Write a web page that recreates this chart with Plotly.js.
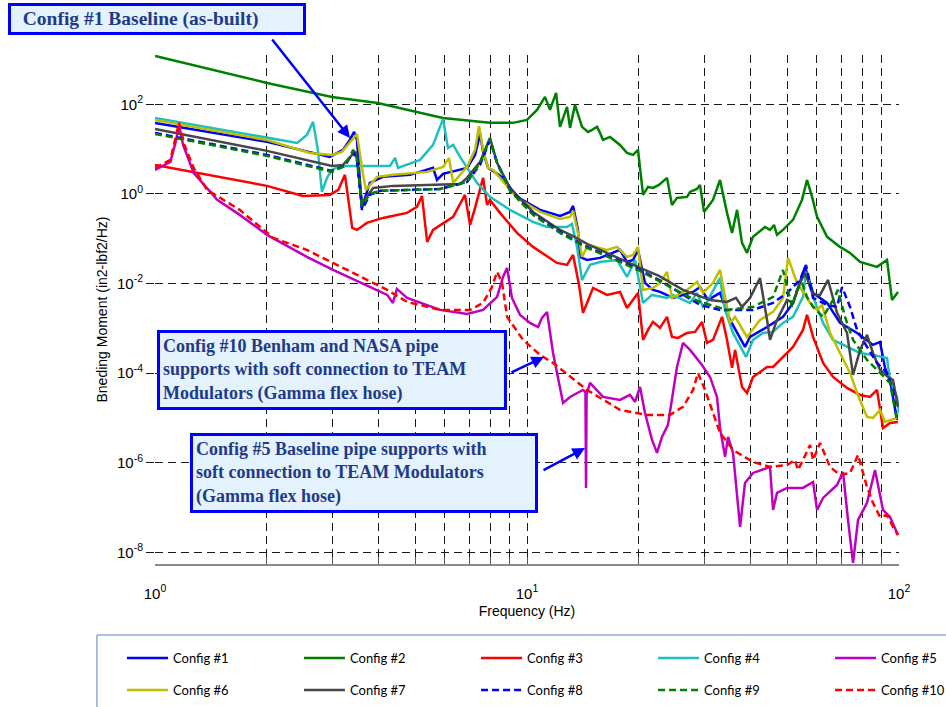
<!DOCTYPE html>
<html>
<head>
<meta charset="utf-8">
<script src="https://cdn.plot.ly/plotly-3.0.1.min.js"></script>
<style>
  html, body { margin: 0; padding: 0; background: #ffffff; }
  #chart { width: 946px; height: 707px; }
</style>
</head>
<body>
<div id="chart"></div>
<script>
// Bending moment PSD (in2-lbf2/Hz) versus frequency (Hz) for each configuration.
const cfg1Freq = [1.00, 2.00, 2.95, 3.20, 3.34, 3.43, 3.49, 3.60, 3.69, 3.78, 4.10, 4.85, 5.59, 5.73, 5.95, 6.90, 7.25, 7.48, 7.62, 7.86, 8.10, 8.62, 9.40, 10.84, 12.27, 13.05, 13.30, 13.71, 13.88, 14.50, 15.71, 17.03, 17.78, 18.57, 19.28, 19.88, 20.76, 21.81, 22.78, 24.69, 27.95, 29.18, 30.66, 33.03, 35.14, 38.55, 39.77, 44.19, 48.77, 51.89, 55.89, 58.75, 64.07, 69.42, 77.13, 85.13, 88.91, 91.71, 94.58, 98.77];
const cfg1Val = [38.5, 14.5, 6.70, 9.60, 16.0, 24.2, 16.0, 0.487, 0.950, 1.76, 2.40, 2.66, 3.80, 2.05, 2.80, 3.80, 7.42, 21.8, 8.66, 3.80, 3.26, 2.28, 0.857, 0.440, 0.323, 0.396, 0.540, 0.157, 0.0393, 0.0336, 0.0373, 0.0482, 0.0562, 0.0303, 0.0336, 0.0562, 0.0103, 0.00720, 0.00649, 0.00477, 0.00649, 0.00839, 0.00430, 0.00617, 0.00154, 0.000385, 0.000643, 0.00107, 0.00180, 0.00369, 0.0235, 0.00617, 0.00369, 0.00132, 0.000789, 0.000426, 0.000497, 0.000131, 7.05e-5, 9.02e-6];

const cfg2Freq = [1.00, 2.00, 2.99, 3.97, 5.94, 7.95, 9.17, 10.0, 10.64, 11.18, 11.53, 11.97, 12.27, 12.81, 13.05, 13.46, 14.06, 14.59, 14.96, 15.43, 15.71, 16.01, 16.72, 17.78, 18.57, 19.28, 19.88, 20.51, 21.15, 21.81, 22.63, 23.79, 24.53, 25.30, 26.93, 27.43, 28.64, 29.18, 29.91, 30.66, 31.62, 33.03, 34.49, 35.58, 36.70, 37.84, 39.03, 40.51, 43.64, 45.01, 46.13, 46.99, 48.77, 51.89, 54.86, 56.58, 58.39, 60.22, 64.07, 69.42, 73.86, 78.58, 87.27, 92.85, 95.76, 99.38];
const cfg2Val = [1200, 300, 146, 107, 49.7, 38.5, 38.5, 44.9, 75, 146, 75, 180, 31.3, 87.5, 29.7, 97, 31.3, 24.2, 26.8, 31.3, 23.0, 16.0, 18.7, 12.4, 8.22, 7.42, 9.60, 0.95, 1.43, 1.36, 1.59, 2.28, 0.568, 0.814, 0.857, 1.11, 1.29, 1.59, 0.396, 0.513, 0.735, 2.05, 0.377, 0.135, 0.44, 0.0806, 0.0482, 0.110, 0.183, 0.157, 0.203, 0.122, 0.157, 0.263, 0.735, 2.05, 0.857, 0.307, 0.110, 0.0656, 0.0482, 0.0303, 0.0235, 0.0336, 0.0043, 0.0065];

const cfg3Freq = [1.00, 2.00, 2.50, 2.95, 3.11, 3.24, 3.39, 3.49, 3.71, 4.10, 4.76, 5.06, 5.22, 5.39, 5.59, 6.10, 6.33, 6.81, 7.03, 7.25, 7.62, 7.81, 7.95, 8.46, 9.40, 10.38, 12.04, 12.81, 13.30, 13.80, 14.14, 14.50, 15.05, 16.41, 17.78, 18.57, 19.28, 19.88, 20.51, 21.15, 21.81, 22.78, 23.79, 24.53, 25.46, 26.93, 28.29, 29.54, 30.47, 31.62, 33.44, 34.49, 35.58, 36.25, 37.84, 39.03, 40.51, 44.19, 45.86, 47.87, 51.89, 55.20, 56.58, 58.75, 62.50, 66.48, 72.48, 78.58, 83.56, 87.27, 90.58, 94.58, 99.38];
const cfg3Val = [4.44, 1.51, 0.902, 0.950, 1.23, 2.66, 0.174, 0.157, 0.225, 0.291, 0.377, 0.513, 0.902, 0.0849, 0.157, 0.250, 0.307, 0.950, 0.203, 0.487, 2.28, 0.568, 0.735, 0.377, 0.135, 0.0656, 0.0288, 0.0260, 0.0435, 0.00930, 0.00221, 0.00369, 0.00798, 0.00557, 0.00649, 0.00285, 0.00430, 0.00617, 0.000551, 0.000921, 0.00139, 0.00102, 0.00180, 0.000643, 0.000611, 0.000789, 0.000832, 0.00139, 0.000472, 0.000551, 0.00180, 0.000551, 0.000131, 0.000330, 4.92e-5, 3.61e-5, 8.22e-5, 0.000137, 0.000137, 0.000197, 0.000385, 0.000921, 0.00199, 0.000643, 0.000169, 8.22e-5, 4.67e-5, 3.26e-5, 2.94e-5, 4.22e-5, 5.98e-6, 7.73e-6, 8.14e-6];

const cfg4Freq = [1.00, 2.00, 2.41, 2.56, 2.66, 2.74, 2.81, 2.90, 2.99, 3.14, 4.28, 4.42, 4.50, 5.16, 5.59, 5.95, 6.13, 6.33, 6.61, 7.34, 7.95, 9.00, 10.38, 11.32, 12.81, 13.21, 13.63, 14.06, 14.77, 15.71, 17.46, 18.57, 19.52, 20.51, 21.68, 23.79, 24.69, 26.26, 27.43, 28.64, 29.72, 30.47, 33.03, 34.07, 35.80, 38.79, 40.51, 43.10, 45.86, 48.77, 51.89, 55.20, 56.23, 58.75, 62.50, 66.48, 72.48, 78.58, 85.13, 92.85, 94.58, 98.77, 100];
const cfg4Val = [49.7, 17.8, 13.7, 20.7, 40.5, 9.60, 1.11, 2.28, 3.43, 4.22, 4.22, 6.36, 3.80, 5.74, 12.4, 47.2, 10.6, 12.4, 6.70, 1.76, 0.857, 0.440, 0.237, 0.183, 0.183, 0.214, 0.0656, 0.0120, 0.0260, 0.0303, 0.0336, 0.0140, 0.0336, 0.00369, 0.00557, 0.00477, 0.00557, 0.00430, 0.00369, 0.00617, 0.00300, 0.00388, 0.0133, 0.00258, 0.000789, 0.000230, 0.000551, 0.000789, 0.000832, 0.00132, 0.00180, 0.00502, 0.0182, 0.00502, 0.00132, 0.000551, 0.000385, 0.000282, 0.000255, 0.000218, 7.05e-5, 2.94e-5, 1.29e-5];

const cfg5Freq = [1.00, 1.10, 1.14, 1.16, 1.19, 1.27, 1.47, 1.69, 2.00, 2.56, 3.01, 4.03, 4.21, 4.36, 4.47, 4.76, 5.84, 6.90, 7.62, 8.31, 8.62, 8.84, 9.11, 9.58, 10.19, 10.71, 10.97, 11.32, 11.75, 12.50, 13.05, 14.14, 14.36, 14.41, 14.46, 14.77, 16.01, 17.78, 18.92, 19.52, 20.13, 20.76, 21.68, 22.36, 23.06, 23.93, 25.30, 26.26, 27.43, 29.54, 31.05, 32.42, 33.03, 34.07, 34.71, 35.80, 37.39, 38.55, 40.51, 45.01, 45.86, 46.99, 50.02, 55.20, 58.75, 60.22, 62.50, 68.15, 70.72, 72.93, 75.24, 77.61, 82.04, 86.2, 90.58, 94.58, 99.38];
const cfg5Val = [3.43, 5.18, 16.0, 34.7, 12.4, 2.94, 0.735, 0.340, 0.122, 0.0393, 0.0201, 0.00649, 0.00557, 0.00369, 0.00757, 0.00477, 0.00258, 0.00210, 0.00258, 0.00502, 0.0140, 0.0223, 0.00477, 0.00199, 0.00132, 0.00107, 0.00171, 0.00232, 0.000282, 2.16e-5, 2.94e-5, 4.22e-5, 3.80e-5, 2.74e-7, 3.30e-5, 6.04e-5, 2.94e-5, 2.52e-5, 3.26e-5, 2.28e-5, 4.92e-5, 1.29e-5, 3.23e-6, 1.66e-6, 3.77e-6, 6.98e-6, 0.000137, 0.000472, 0.000330, 0.000152, 8.22e-5, 2.94e-5, 5.98e-6, 1.35e-6, 3.77e-6, 1.66e-6, 3.69e-8, 3.54e-7, 5.92e-7, 8.05e-7, 8.84e-8, 2.12e-7, 2.74e-7, 2.74e-7, 3.73e-7, 8.84e-8, 1.64e-7, 3.19e-7, 6.23e-7, 5.29e-8, 5.80e-9, 5.29e-8, 1.27e-7, 6.90e-7, 8.84e-8, 6.17e-8, 2.44e-8];

const cfg6Freq = [1.00, 2.00, 2.61, 2.99, 3.18, 3.34, 3.49, 3.62, 3.69, 3.95, 4.36, 5.39, 5.95, 6.17, 6.33, 6.90, 7.25, 7.43, 7.62, 7.86, 8.10, 8.46, 9.40, 10.84, 12.27, 13.05, 13.30, 13.71, 14.06, 14.59, 15.71, 16.41, 17.46, 18.12, 18.57, 19.28, 19.88, 20.51, 21.81, 22.78, 23.79, 24.53, 26.93, 28.64, 29.72, 31.62, 33.03, 35.14, 36.25, 39.03, 42.30, 45.86, 48.77, 50.33, 53.19, 57.68, 60.22, 62.12, 65.25, 69.42, 73.86, 77.13, 82.04, 85.13, 88.91, 91.71, 94.58, 98.77];
const cfg6Val = [44.9, 16.0, 8.22, 7.42, 8.66, 13.7, 21.8, 2.94, 1.23, 2.40, 2.66, 3.10, 4.01, 6.36, 1.76, 4.01, 9.60, 32.9, 9.60, 3.80, 3.43, 2.28, 0.814, 0.396, 0.277, 0.307, 0.418, 0.135, 0.0393, 0.0727, 0.0624, 0.0562, 0.0656, 0.0482, 0.0393, 0.0435, 0.0656, 0.00720, 0.00798, 0.0103, 0.0182, 0.00477, 0.00720, 0.0109, 0.00617, 0.0103, 0.0201, 0.00132, 0.00180, 0.000643, 0.00154, 0.00232, 0.00477, 0.0373, 0.0103, 0.00369, 0.00258, 0.00333, 0.000789, 0.000282, 0.000101, 3.61e-5, 1.05e-5, 1.0e-5, 1.51e-5, 8.14e-6, 9.02e-6, 1.0e-5];

const cfg7Freq = [1.00, 2.00, 2.99, 3.20, 3.39, 3.47, 3.60, 3.86, 4.36, 5.84, 6.61, 6.90, 7.48, 7.95, 8.31, 9.00, 10.38, 12.27, 13.30, 14.50, 17.03, 20.13, 22.63, 26.26, 31.05, 34.49, 36.46, 37.84, 39.77, 42.30, 44.19, 45.01, 46.99, 50.02, 51.89, 54.19, 55.89, 58.75, 61.35, 64.44, 68.15, 72.48, 75.24, 78.58, 82.04, 85.13, 88.91, 93.41, 96.36, 99.38];
const cfg7Val = [28.2, 9.12, 4.22, 4.44, 7.42, 8.66, 0.630, 1.36, 1.51, 1.59, 1.67, 2.28, 5.18, 17.8, 4.92, 1.36, 0.396, 0.157, 0.115, 0.0766, 0.0413, 0.0223, 0.0148, 0.00720, 0.00430, 0.00388, 0.00477, 0.00300, 0.00477, 0.0133, 0.00154, 0.000551, 0.00154, 0.00430, 0.00369, 0.0103, 0.0173, 0.00557, 0.00557, 0.0120, 0.00221, 0.000789, 9.12e-5, 0.000330, 0.000713, 0.000282, 0.000118, 8.22e-5, 7.05e-5, 1.76e-5];

const cfg8Freq = [1.00, 2.00, 2.99, 3.24, 3.41, 3.49, 3.60, 3.78, 4.03, 5.84, 6.90, 7.48, 7.95, 8.31, 9.00, 10.38, 12.27, 14.50, 17.03, 20.13, 22.63, 26.26, 29.18, 33.03, 40.51, 45.86, 50.02, 54.19, 56.23, 58.75, 64.07, 68.15, 70.28, 73.86, 77.13, 82.04, 87.27, 92.85, 96.36, 98.77];
const cfg8Val = [23.0, 7.42, 3.26, 4.22, 8.66, 5.74, 0.440, 0.950, 1.17, 1.29, 1.85, 4.44, 16.0, 4.92, 1.23, 0.358, 0.142, 0.0656, 0.0373, 0.0201, 0.0120, 0.00557, 0.00333, 0.00258, 0.00258, 0.00369, 0.00617, 0.0120, 0.0260, 0.00477, 0.00333, 0.00300, 0.00839, 0.00300, 0.000921, 0.000385, 0.000169, 0.000101, 4.22e-5, 9.02e-6];

const cfg9Freq = [1.00, 2.00, 2.99, 3.24, 3.41, 3.49, 3.60, 3.78, 4.03, 5.84, 6.90, 7.48, 7.95, 8.31, 9.00, 10.38, 12.27, 14.50, 17.03, 20.13, 22.63, 26.26, 29.18, 34.49, 40.51, 45.86, 48.77, 51.57, 53.19, 54.86, 56.58, 58.75, 62.50, 66.48, 68.55, 71.58, 75.24, 82.04, 88.91, 94.58, 98.77];
const cfg9Val = [21.8, 7.05, 3.10, 4.22, 9.60, 6.36, 0.540, 1.00, 1.17, 1.29, 1.85, 4.92, 16.9, 4.92, 1.17, 0.340, 0.135, 0.0624, 0.0354, 0.0191, 0.0114, 0.00586, 0.00388, 0.00258, 0.00300, 0.00502, 0.0201, 0.00300, 0.00720, 0.0103, 0.00502, 0.00300, 0.00180, 0.00430, 0.00720, 0.00180, 0.000551, 0.000197, 0.000101, 6.04e-5, 9.02e-6];

const cfg10Freq = [1.00, 1.10, 1.16, 1.20, 1.27, 1.38, 1.69, 2.08, 2.56, 2.90, 4.21, 4.76, 5.84, 7.03, 7.62, 8.05, 8.31, 8.57, 8.84, 9.76, 10.84, 11.75, 14.50, 17.78, 21.02, 24.23, 26.26, 27.95, 28.82, 30.10, 31.62, 33.03, 35.80, 40.51, 45.01, 50.02, 52.54, 53.52, 55.20, 57.68, 58.75, 61.35, 65.25, 69.42, 73.86, 77.61, 82.04, 85.13, 88.91, 92.85, 96.36, 99.38];
const cfg10Val = [3.80, 5.74, 38.5, 12.4, 3.80, 1.23, 0.440, 0.104, 0.0562, 0.0336, 0.00720, 0.00388, 0.00258, 0.00258, 0.00369, 0.00839, 0.0182, 0.0103, 0.00180, 0.000551, 0.000255, 0.000169, 4.22e-5, 1.51e-5, 1.17e-5, 1.17e-5, 1.76e-5, 4.22e-5, 0.000101, 4.22e-5, 1.29e-5, 4.62e-6, 1.93e-6, 1.04e-6, 8.05e-7, 8.93e-7, 1.15e-6, 6.90e-7, 1.15e-6, 2.50e-6, 1.15e-6, 2.77e-6, 8.05e-7, 5.34e-7, 5.92e-7, 1.49e-6, 2.88e-7, 1.27e-7, 6.17e-8, 6.84e-8, 3.69e-8, 2.44e-8];

const seriesNames = ['Config #1', 'Config #2', 'Config #3', 'Config #4', 'Config #5',
                     'Config #6', 'Config #7', 'Config #8', 'Config #9', 'Config #10'];

const xTickVals = [1, 10, 100];
const xTickText = ['10<sup>0</sup>', '10<sup>1</sup>', '10<sup>2</sup>'];
const xMinorVals = [2, 3, 4, 5, 6, 7, 8, 9, 20, 30, 40, 50, 60, 70, 80, 90];
const yTickVals = [1e-8, 1e-6, 1e-4, 1e-2, 1, 1e2];
const yTickText = ['10<sup>-8</sup>', '10<sup>-6</sup>', '10<sup>-4</sup>', '10<sup>-2</sup>', '10<sup>0</sup>', '10<sup>2</sup>'];

// Line styling per configuration
const styles = [
  { color: '#0000ff', dash: 'solid' },
  { color: '#008000', dash: 'solid' },
  { color: '#ff0000', dash: 'solid' },
  { color: '#1fbfc0', dash: 'solid' },
  { color: '#bf00bf', dash: 'solid' },
  { color: '#bfbf00', dash: 'solid' },
  { color: '#474747', dash: 'solid' },
  { color: '#0000ff', dash: '7px,4px' },
  { color: '#008000', dash: '7px,4px' },
  { color: '#ff0000', dash: '7px,4px' }
];

const freqs = [cfg1Freq, cfg2Freq, cfg3Freq, cfg4Freq, cfg5Freq, cfg6Freq, cfg7Freq, cfg8Freq, cfg9Freq, cfg10Freq];
const vals = [cfg1Val, cfg2Val, cfg3Val, cfg4Val, cfg5Val, cfg6Val, cfg7Val, cfg8Val, cfg9Val, cfg10Val];

// one legend box per entry, laid out as a 5 x 2 grid under the axes
const legendId = i => (i === 0 ? 'legend' : 'legend' + (i + 1));

const traces = seriesNames.map((name, i) => ({
  type: 'scatter',
  mode: 'lines',
  name: name,
  x: freqs[i],
  y: vals[i],
  line: { color: styles[i].color, width: 2.5, dash: styles[i].dash },
  legend: legendId(i),
  hoverinfo: 'skip'
}));

const gridDash = '8px,5px';
const calloutFont = { family: 'Liberation Serif, Times New Roman, serif', size: 18, color: '#1f3b87' };
const legendFont = { family: 'Lato, Liberation Sans, Arial, sans-serif', size: 13, color: '#000' };

const legendColX = [-0.0444, 0.1935, 0.4315, 0.6694, 0.9073];
const legendRowY = [-0.1552, -0.2181];

const layout = {
  width: 946,
  height: 707,
  margin: { l: 155, r: 47, t: 55, b: 143, autoexpand: false },
  paper_bgcolor: '#ffffff',
  plot_bgcolor: '#ffffff',
  font: { family: 'Liberation Sans, Arial, sans-serif', color: '#000' },
  hovermode: false,
  showlegend: true,
  xaxis: {
    type: 'log',
    range: [0, 2],
    tickmode: 'array',
    tickvals: xTickVals,
    ticktext: xTickText,
    ticks: 'inside',
    ticklen: 7,
    tickcolor: '#555',
    tickfont: { size: 15 },
    ticklabelstandoff: 15,
    showline: true,
    linecolor: '#8a8a8a',
    linewidth: 1.5,
    showgrid: true,
    gridcolor: '#1a1a1a',
    gridwidth: 1,
    griddash: gridDash,
    zeroline: false,
    minor: {
      tickmode: 'array',
      tickvals: xMinorVals,
      ticks: 'inside',
      ticklen: 7,
      tickcolor: '#555',
      showgrid: true,
      gridcolor: '#1a1a1a',
      gridwidth: 1,
      griddash: gridDash
    },
    title: { text: 'Frequency (Hz)', font: { size: 14 }, standoff: 5 }
  },
  yaxis: {
    type: 'log',
    range: [-8.26, 3.10],
    tickmode: 'array',
    tickvals: yTickVals,
    ticktext: yTickText,
    ticks: 'outside',
    ticklen: 8,
    tickcolor: '#1a1a1a',
    tickfont: { size: 15 },
    showline: false,
    showgrid: true,
    gridcolor: '#1a1a1a',
    gridwidth: 1,
    griddash: gridDash,
    zeroline: false,
    title: { text: 'Bneding Moment (in2-lbf2/Hz)', font: { size: 14 }, standoff: 6 }
  },
  shapes: [
    {
      type: 'rect', xref: 'paper', yref: 'paper',
      x0: -0.078, x1: 1.12, y0: -0.1395, y1: -0.31,
      line: { color: '#5a7fc4', width: 1 },
      fillcolor: 'rgba(0,0,0,0)'
    }
  ],
  annotations: [
    // callout arrows
    { xref: 'paper', yref: 'paper', x: 0.2621, y: 0.8369, ax: -79, ay: -100, text: '',
      showarrow: true, arrowhead: 2, arrowsize: 1, arrowwidth: 2.5, arrowcolor: '#0000ff' },
    { xref: 'paper', yref: 'paper', x: 0.5228, y: 0.4067, ax: -34, ay: 16, text: '',
      showarrow: true, arrowhead: 2, arrowsize: 1, arrowwidth: 2.5, arrowcolor: '#0000ff' },
    { xref: 'paper', yref: 'paper', x: 0.5780, y: 0.2279, ax: -43, ay: 23, text: '',
      showarrow: true, arrowhead: 2, arrowsize: 1, arrowwidth: 2.5, arrowcolor: '#0000ff' },
    // callout boxes
    { xref: 'paper', yref: 'paper', x: -0.1976, y: 1.1022, xanchor: 'left', yanchor: 'top',
      text: '<b>&nbsp;&nbsp;Config #1 Baseline (as-built)</b>', showarrow: false, align: 'left',
      font: Object.assign({}, calloutFont, { size: 19.5 }), bgcolor: '#e4f2fd', bordercolor: '#0000ff',
      borderwidth: 3, borderpad: 2, width: 288 },
    { xref: 'paper', yref: 'paper', x: 0.0027, y: 0.4597, xanchor: 'left', yanchor: 'top',
      text: '<b>Config #10 Benham and NASA pipe<br>supports with soft connection to TEAM<br>Modulators (Gamma flex hose)</b>',
      showarrow: false, align: 'left',
      font: calloutFont, bgcolor: '#e4f2fd', bordercolor: '#0000ff', borderwidth: 3, borderpad: 3,
      width: 338, xshift: 0 },
    { xref: 'paper', yref: 'paper', x: 0.0470, y: 0.2574, xanchor: 'left', yanchor: 'top',
      text: '<b>Config #5 Baseline pipe supports with<br>soft connection to TEAM Modulators<br>(Gamma flex hose)</b>',
      showarrow: false, align: 'left',
      font: calloutFont, bgcolor: '#e4f2fd', bordercolor: '#0000ff', borderwidth: 3, borderpad: 3,
      width: 336 }
  ]
};

seriesNames.forEach((name, i) => {
  layout[legendId(i)] = {
    orientation: 'h',
    xanchor: 'left',
    yanchor: 'top',
    x: legendColX[i % 5],
    y: legendRowY[Math.floor(i / 5)],
    itemwidth: 41,
    font: legendFont,
    bgcolor: 'rgba(0,0,0,0)',
    borderwidth: 0,
    itemclick: false,
    itemdoubleclick: false
  };
});

Plotly.newPlot('chart', traces, layout, { staticPlot: true, displayModeBar: false });
</script>
</body>
</html>
